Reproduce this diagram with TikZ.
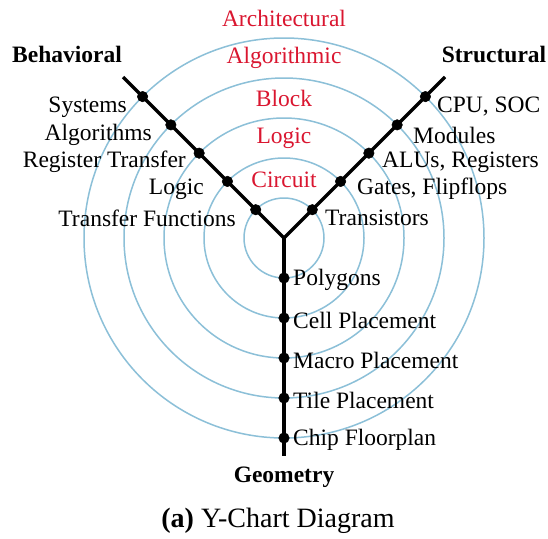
\documentclass[tikz,border=0pt]{standalone}
\usepackage{fontspec}
\setmainfont{Liberation Serif}
\usetikzlibrary{calc}
\begin{document}
\begin{tikzpicture}[x=1pt,y=-1pt,
  ring/.style={draw=ringblue,line width=1.5pt},
  arm/.style={line width=3.2pt,black},
  dot/.style={circle,fill=black,draw=black,line width=0.5pt,inner sep=0pt,minimum size=10.5pt},
  lvl/.style={text=lvlred,font=\fontsize{23.5}{28}\selectfont},
  item/.style={font=\fontsize{23.5}{28}\selectfont,inner sep=0pt},
  head/.style={font=\fontsize{23.5}{28}\selectfont\bfseries,inner sep=0pt}]
\definecolor{ringblue}{RGB}{140,192,216}
\definecolor{lvlred}{RGB}{218,22,48}
\useasboundingbox (0,0) rectangle (548,538);
\fill[white] (0,0) rectangle (548,538);

% centre of the chart
\coordinate (c) at (284,238);
\foreach \r in {40,80,120,160,200}
  \draw[ring] (c) circle[radius=\r];

% abstraction levels
\node[lvl] (l5) at (284,18) {Architectural};
\node[lvl] (l4) at (284,58) {Algorithmic};
\node[lvl] (l3) at (284,98) {Block};
\node[lvl] (l2) at (284,138) {Logic};
\node[lvl] (l1) at (284,180) {Circuit};

% the three axes
\coordinate (bend) at (123,77);
\coordinate (send) at (445,77);
\coordinate (gend) at (284,456);
\draw[arm] (bend) -- (c) -- (send);
\draw[arm] (c) -- (gend);

% dots on the axes
\foreach \i/\r in {1/40,2/80,3/120,4/160,5/200}{
  \node[dot] (b\i) at ($(c)+(-0.7071*\r,-0.7071*\r)$) {};
  \node[dot] (s\i) at ($(c)+(0.7071*\r,-0.7071*\r)$) {};
  \node[dot] (g\i) at ($(c)+(0,\r)$) {};
}

% behavioural domain
\node[item,anchor=east] (tb5) at (127,107) {Systems};
\node[item,anchor=east] (tb4) at (152,135) {Algorithms};
\node[item,anchor=east] (tb3) at (186,162) {Register Transfer};
\node[item,anchor=east] (tb2) at (204,189) {Logic};
\node[item,anchor=east] (tb1) at (236,218) {Transfer Functions};

% structural domain
\node[item,anchor=west] (ts5) at (437,107) {CPU, SOC};
\node[item,anchor=west] (ts4) at (413,135) {Modules};
\node[item,anchor=west] (ts3) at (382,162) {ALUs, Registers};
\node[item,anchor=west] (ts2) at (357,189) {Gates, Flipflops};
\node[item,anchor=west] (ts1) at (325,218) {Transistors};

% geometrical domain
\node[item,anchor=west] (tg1) at (293,280) {Polygons};
\node[item,anchor=west] (tg2) at (293,320) {Cell Placement};
\node[item,anchor=west] (tg3) at (293,360) {Macro Placement};
\node[item,anchor=west] (tg4) at (293,400) {Tile Placement};
\node[item,anchor=west] (tg5) at (293,440) {Chip Floorplan};

% domain names
\node[head] (hb) at (67,54) {Behavioral};
\node[head] (hs) at (494,54) {Structural};
\node[head] (hg) at (284,477) {Geometry};

% caption
\node[font=\fontsize{28}{32}\selectfont] (cap) at (278,521) {\textbf{(a)} Y-Chart Diagram};
\end{tikzpicture}
\end{document}
